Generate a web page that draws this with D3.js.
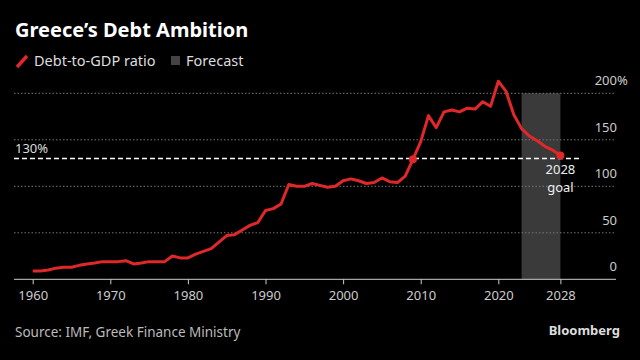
<!DOCTYPE html>
<html>
<head>
<meta charset="utf-8">
<script src="https://cdn.jsdelivr.net/npm/d3@7"></script>
<style>
  html, body { margin: 0; padding: 0; background: #000; }
  svg { display: block; font-family: "Noto Sans", sans-serif; }
</style>
</head>
<body>
<div id="chart"></div>
<script>
// data
const years = d3.range(1960, 2029);
const debtRatio = [
  9, 9, 10, 12, 13, 13, 15, 16.5, 17.5, 19,
  19, 19, 20, 16.5, 17.5, 19, 19, 19, 25, 23,
  23, 27, 30, 33, 40, 47, 48, 53, 58, 61,
  74, 76, 81, 102, 100, 100, 103, 101, 99, 100,
  106, 108, 106, 103, 104, 109, 105, 104, 111, 129,
  148, 176, 163, 180, 182, 180, 184, 183, 191, 186,
  213, 202, 177, 162, 154, 149, 143, 139, 133
];
const xTicks = [1960, 1970, 1980, 1990, 2000, 2010, 2020, 2028];
const yTicks = [0, 50, 100, 150, 200];
const forecastSpan = [2023, 2028];
const goalValue = 130;
const markedYears = [2009, 2028];
const goalLines = ["2028", "goal"];

(() => {
  const W = 640, H = 360;
  const svg = d3.select("#chart").append("svg")
    .attr("width", W).attr("height", H);

  svg.append("rect").attr("width", W).attr("height", H).attr("fill", "#000");

  const x = d3.scaleLinear().domain([1960, 2028]).range([32.7, 560.4]);
  const y = d3.scaleLinear().domain([0, 200]).range([279.3, 93.3]);

  const series = years.map((yr, i) => ({ year: yr, value: debtRatio[i] }));

  // title + legend
  svg.append("text").attr("x", 15).attr("y", 37)
    .attr("fill", "#fff").attr("font-size", 20).attr("font-weight", "bold")
    .text("Greece\u2019s Debt Ambition");

  svg.append("line")
    .attr("x1", 17).attr("y1", 67).attr("x2", 27).attr("y2", 56)
    .attr("stroke", "#e0282a").attr("stroke-width", 3.5);
  svg.append("text").attr("x", 34).attr("y", 66)
    .attr("fill", "#ddd").attr("font-size", 14.5).text("Debt-to-GDP ratio");
  svg.append("rect").attr("x", 171).attr("y", 56).attr("width", 9).attr("height", 9)
    .attr("fill", "#444");
  svg.append("text").attr("x", 186).attr("y", 66)
    .attr("fill", "#ddd").attr("font-size", 14.5).text("Forecast");

  // forecast band
  svg.append("rect")
    .attr("x", x(forecastSpan[0])).attr("width", x(forecastSpan[1]) - x(forecastSpan[0]))
    .attr("y", y(200)).attr("height", y(0) - y(200))
    .attr("fill", "#3a3a3a");

  // gridlines + y labels
  const grid = svg.append("g");
  grid.selectAll("line").data(yTicks.filter(d => d > 0)).enter().append("line")
    .attr("x1", 14).attr("x2", 616)
    .attr("y1", d => y(d)).attr("y2", d => y(d))
    .attr("stroke", "#777").attr("stroke-width", 1).attr("stroke-dasharray", "1.5,2");
  grid.selectAll("text").data(yTicks).enter().append("text")
    .attr("x", 617).attr("y", d => y(d) - 8)
    .attr("text-anchor", "end")
    .attr("fill", "#ccc").attr("font-size", 13)
    .text(d => d);
  // "%" hangs past the right edge on the top label only
  grid.append("text").attr("x", 617).attr("y", y(200) - 8)
    .attr("fill", "#ccc").attr("font-size", 13).text("%");

  // x axis
  const xAxis = svg.append("g")
    .attr("transform", `translate(0,${y(0)})`)
    .call(d3.axisBottom(x).tickValues(xTicks).tickFormat(d3.format("d")).tickSize(5).tickPadding(6).tickSizeOuter(0));
  xAxis.select(".domain").remove();
  xAxis.selectAll("line").attr("stroke", "#ccc");
  xAxis.selectAll("text").attr("fill", "#ccc").attr("font-size", 13)
    .attr("font-family", "Noto Sans, sans-serif");
  svg.append("line").attr("x1", 14).attr("x2", 616)
    .attr("y1", y(0)).attr("y2", y(0))
    .attr("stroke", "#ccc").attr("stroke-width", 1);

  // 130% goal line
  svg.append("line").attr("x1", 14).attr("x2", 580)
    .attr("y1", y(goalValue)).attr("y2", y(goalValue))
    .attr("stroke", "#fff").attr("stroke-width", 1.5).attr("stroke-dasharray", "5,3");
  svg.append("text").attr("x", 15).attr("y", y(goalValue) - 5)
    .attr("fill", "#ddd").attr("font-size", 13).text(goalValue + "%");

  // debt line
  const line = d3.line().x(d => x(d.year)).y(d => y(d.value));
  svg.append("path").datum(series)
    .attr("d", line)
    .attr("fill", "none")
    .attr("stroke", "#e0282a")
    .attr("stroke-width", 3)
    .attr("stroke-linejoin", "round");

  svg.selectAll("circle.mark").data(series.filter(d => markedYears.includes(d.year)))
    .enter().append("circle").attr("class", "mark")
    .attr("cx", d => x(d.year)).attr("cy", d => y(d.value))
    .attr("r", 4).attr("fill", "#e0282a");

  // 2028 goal annotation
  svg.selectAll("text.goal").data(goalLines).enter().append("text")
    .attr("class", "goal")
    .attr("text-anchor", "middle")
    .attr("x", x(2028)).attr("y", (d, i) => 174 + i * 17.5)
    .attr("fill", "#eee").attr("font-size", 13)
    .text(d => d);

  // footer
  svg.append("text").attr("x", 15).attr("y", 337)
    .attr("fill", "#bbb").attr("font-size", 13.5)
    .text("Source: IMF, Greek Finance Ministry");
  svg.append("text").attr("x", 620).attr("y", 335).attr("text-anchor", "end")
    .attr("fill", "#ddd").attr("font-size", 13).attr("font-weight", "bold")
    .text("Bloomberg");
})();
</script>
</body>
</html>
